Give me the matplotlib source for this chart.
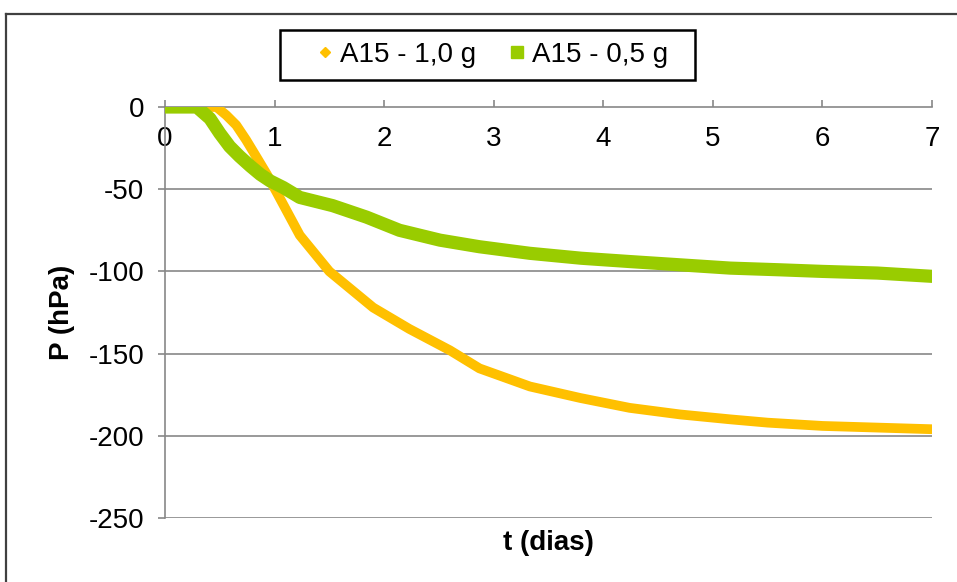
import matplotlib.pyplot as plt
from matplotlib.lines import Line2D
from matplotlib.patches import Rectangle

plt.rcParams['font.family'] = ['Liberation Sans', 'DejaVu Sans']

# A15 - 1,0 g
t_10 = [0, 0.2, 0.47, 0.56, 0.65, 0.74, 0.84, 0.93, 1.02, 1.23, 1.5, 1.9, 2.23, 2.6,
        2.87, 3.33, 3.79, 4.24, 4.7, 5.16, 5.5, 6.0, 6.5, 7.0]
p_10 = [0, 0, 0, -5, -11, -20, -31, -41, -52, -78, -100, -122, -135, -148,
        -159, -170, -177, -183, -187, -190, -192, -194, -195, -196]

# A15 - 0,5 g
t_05 = [0, 0.15, 0.29, 0.41, 0.5, 0.59, 0.68, 0.78, 0.87, 0.96, 1.08, 1.23, 1.53, 1.84,
        2.14, 2.51, 2.87, 3.33, 3.8, 4.24, 4.7, 5.16, 5.6, 6.0, 6.5, 7.0]
p_05 = [0, 0, 0, -7, -16, -24, -30, -36, -41, -45, -49, -55, -60, -67,
        -75, -81, -85, -89, -92, -94, -96, -98, -99, -100, -101, -103]

x_ticks = [0, 1, 2, 3, 4, 5, 6, 7]
y_ticks = [0, -50, -100, -150, -200, -250]

orange = '#FFC000'
green = '#99CC00'
grey = '#878787'

fig = plt.figure(figsize=(9.57, 5.82), dpi=100)
ax = fig.add_axes([165 / 957, 1 - 518 / 582, (932 - 165) / 957, (518 - 107) / 582])

ax.plot(t_10, p_10, color=orange, lw=7, solid_capstyle='round', solid_joinstyle='round', zorder=3)
ax.plot(t_05, p_05, color=green, lw=9.5, solid_capstyle='round', solid_joinstyle='round', zorder=4)

ax.set_xlim(0, 7)
ax.set_ylim(-250, 0)
ax.set_xticks(x_ticks)
ax.set_yticks(y_ticks)
ax.set_yticklabels([str(v) for v in y_ticks])

for s in ['top', 'right']:
    ax.spines[s].set_visible(False)
ax.spines['bottom'].set_position(('data', 0))
ax.spines['bottom'].set_color(grey)
ax.spines['left'].set_color(grey)
ax.spines['bottom'].set_linewidth(1.2)
ax.spines['left'].set_linewidth(1.2)
ax.spines['bottom'].set_zorder(1)

ax.tick_params(axis='x', direction='in', length=5, width=1.2, color=grey, labelsize=20, pad=14)
ax.tick_params(axis='y', direction='out', length=5, width=1.2, color=grey, labelsize=20, pad=10)

for v in y_ticks[1:]:
    ax.axhline(v, color=grey, lw=1.2, zorder=1)

fig.text(548 / 957, 1 - 543 / 582, 't (dias)', fontsize=20, fontweight='bold', ha='center', va='center')
fig.text(62 / 957, 1 - 312 / 582, 'P (hPa)', fontsize=20, fontweight='bold', rotation=90,
         ha='center', va='center')

handles = [Line2D([], [], color=orange, marker='D', markersize=5.5, ls='none'),
           Line2D([], [], color=green, marker='s', markersize=8.5, ls='none')]
leg = fig.legend(handles, ['A15 - 1,0 g', 'A15 - 0,5 g'], loc='center',
                 bbox_to_anchor=(493 / 957, 1 - 55 / 582), ncol=2, fontsize=20,
                 frameon=False, handlelength=0.5, handletextpad=0.3,
                 columnspacing=1.2, borderpad=0.0)
fig.add_artist(Rectangle((280 / 957, 1 - 80 / 582), 415 / 957, 50 / 582, transform=fig.transFigure,
                         facecolor='none', edgecolor='black', lw=1.8))

# outer chart border
fig.add_artist(Line2D([6 / 957, 6 / 957], [0, 1 - 14 / 582], color='#404040', lw=1.6))
fig.add_artist(Line2D([6 / 957, 1], [1 - 14 / 582, 1 - 14 / 582], color='#404040', lw=1.6))

fig.savefig('out.png', dpi=100)
